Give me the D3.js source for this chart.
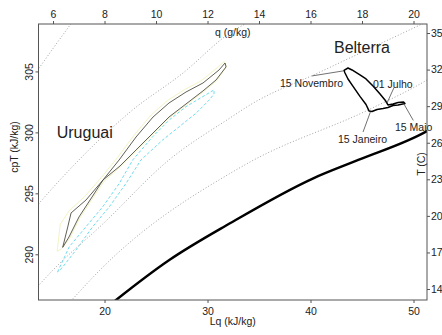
<!DOCTYPE html>
<html>
<head>
<meta charset="utf-8">
<script src="https://cdn.jsdelivr.net/npm/d3@7"></script>
<style>
  html, body { margin: 0; padding: 0; background: #fff; }
  svg text { font-family: "Liberation Sans", Arial, sans-serif; fill: #222; }
</style>
</head>
<body>
<svg id="chart" width="442" height="335"></svg>
<script>
/* ── DATA (Lq kJ/kg, cpT kJ/kg) ── */
const lqTicks  = [20, 30, 40, 50];
const cptTicks = [290, 295, 300, 305];
const qTicks   = [6, 8, 10, 12, 14, 16, 18, 20];
const tTicks   = [14, 17, 20, 23, 26, 29, 32, 35];

// dotted reference curves
const refLineA = [[13.3, 304.85], [15.1, 307.0], [17.0, 309.2]];
const refLineB = [[13.2, 293.75], [13.59, 294.13], [17.52, 297.74], [22.48, 301.67],
                  [27.62, 304.87], [32.18, 308.15], [34.1, 309.1]];
const refLineC = [[13.3, 287.17], [15.0, 288.71], [19.83, 292.48], [26.26, 297.74],
                  [32.18, 301.18], [34.13, 302.25], [40.92, 304.95], [46.07, 307.0],
                  [50.63, 308.81], [51.6, 309.2]];
const refLineD = [[16.5, 285.96], [16.82, 286.25], [19.56, 288.71], [32.77, 296.92],
                  [34.13, 297.57], [45.78, 301.91], [51.31, 304.3], [51.6, 304.45]];
// saturation curve (thick)
const satCurve = [[20.6, 285.9], [21.12, 286.25], [26.29, 289.53], [32.18, 292.54],
                  [40.27, 296.23], [44.64, 297.74], [51.31, 300.11], [51.6, 300.25]];

// Uruguai loops
const uruguaiYellow = [[15.40, 290.25], [15.70, 292.45], [16.55, 293.55], [18.05, 294.72],
  [19.70, 296.30], [21.25, 297.93], [22.90, 299.80], [24.55, 301.45], [26.10, 302.60],
  [27.75, 303.50], [29.40, 304.24], [30.95, 305.30], [31.62, 305.80], [31.85, 305.42],
  [30.90, 304.25], [29.62, 303.35], [27.97, 302.28], [26.32, 301.22], [24.77, 299.90],
  [23.12, 298.50], [21.56, 297.19], [19.92, 295.96], [18.85, 294.58], [17.58, 292.95],
  [16.62, 291.30], [15.75, 290.40]];
const uruguaiDark = [[15.94, 290.57], [16.43, 292.24], [16.75, 293.39], [18.20, 294.45],
  [19.85, 296.09], [21.41, 297.73], [23.06, 299.62], [24.71, 301.26], [26.26, 302.41],
  [27.91, 303.31], [29.56, 304.05], [31.12, 305.12], [31.70, 305.69], [31.80, 305.37],
  [30.83, 304.30], [29.56, 303.40], [27.91, 302.33], [26.26, 301.26], [24.71, 299.95],
  [23.06, 298.56], [21.50, 297.24], [19.85, 296.09], [18.79, 294.70], [17.52, 293.06],
  [16.55, 291.42]];
const uruguaiCyan = [[15.44, 288.55], [16.58, 290.62], [18.20, 292.26], [19.83, 293.90],
  [21.44, 295.82], [22.74, 297.74], [24.68, 299.65], [26.29, 301.02], [27.91, 302.11],
  [29.53, 302.93], [30.63, 303.48], [30.63, 303.15], [30.17, 302.66], [28.88, 301.57],
  [27.26, 300.47], [25.65, 299.38], [23.54, 297.74], [22.09, 295.82], [20.47, 293.90],
  [18.85, 292.26], [17.23, 290.35], [15.87, 288.88]];

// Belterra loop
const belterra = [[43.25, 305.08], [43.64, 305.28], [44.03, 305.12], [44.80, 304.71],
  [45.39, 304.38], [46.07, 303.81], [46.75, 303.15], [47.23, 302.66], [47.52, 302.25],
  [48.01, 302.33], [48.50, 302.45], [49.03, 302.49], [49.17, 302.37], [48.50, 302.25],
  [48.01, 302.21], [47.52, 302.04], [47.04, 301.96], [46.46, 301.88], [45.97, 301.71],
  [45.68, 301.76], [45.39, 302.29], [44.80, 302.95], [44.13, 303.77], [43.64, 304.38],
  [43.35, 304.87]];

// date annotations: label, text anchor point, leader from -> to
const annLabels  = ['15 Novembro', '01 Julho', '15 Janeiro', '15 Maio'];
const annText    = [[37.04, 303.72], [46.07, 303.68], [45.05, 299.13], [48.20, 300.11]];
const annAnchor  = ['start', 'start', 'middle', 'start'];
const annLeader  = [[[40.15, 304.63], [43.16, 305.04]],
                    [[48.11, 303.68], [47.43, 302.41]],
                    [[45.83, 301.71], [45.10, 300.03]],
                    [[49.03, 302.39], [49.98, 300.98]]];
const siteLabels = ['Uruguai', 'Belterra'];
const sitePos    = [[15.36, 299.54], [45.0, 306.51]];
const siteAnchor = ['start', 'middle'];

/* ── LAYOUT ── */
const LEFT = 38.5, RIGHT = 427, TOP = 24, BOTTOM = 300;
const FS = '10.5px';
const AXIS_COL = '#555';

const svg = d3.select('#chart');

const x  = d3.scaleLinear().domain([13.59, 51.31]).range([LEFT, RIGHT]);
const y  = d3.scaleLinear().domain([286.25, 308.89]).range([BOTTOM, TOP]);
const xq = d3.scaleLinear().domain(x.domain().map(v => v / 2.5)).range([LEFT, RIGHT]);
const yT = d3.scaleLinear().domain(y.domain().map(v => v - 273.15)).range([BOTTOM, TOP]);

svg.append('defs').append('clipPath').attr('id', 'plotclip')
  .append('rect').attr('x', LEFT).attr('y', TOP)
  .attr('width', RIGHT - LEFT).attr('height', BOTTOM - TOP);

const plot = svg.append('g').attr('clip-path', 'url(#plotclip)');

const smooth = d3.line().x(d => x(d[0])).y(d => y(d[1])).curve(d3.curveMonotoneX);
const loop   = d3.line().x(d => x(d[0])).y(d => y(d[1])).curve(d3.curveLinearClosed);

/* dotted reference lines */
[refLineA, refLineB, refLineC, refLineD].forEach(pts => {
  plot.append('path').attr('d', smooth(pts))
    .attr('fill', 'none').attr('stroke', '#8a8a8a')
    .attr('stroke-width', 0.8).attr('stroke-dasharray', '1 2');
});

/* saturation curve */
plot.append('path').attr('d', smooth(satCurve))
  .attr('fill', 'none').attr('stroke', '#000').attr('stroke-width', 2.4);

/* Uruguai */
plot.append('path').attr('d', loop(uruguaiYellow))
  .attr('fill', 'none').attr('stroke', '#f3f3c4').attr('stroke-width', 1);
plot.append('path').attr('d', loop(uruguaiCyan))
  .attr('fill', 'none').attr('stroke', '#70dcec')
  .attr('stroke-width', 1).attr('stroke-dasharray', '3 2');
plot.append('path').attr('d', loop(uruguaiDark))
  .attr('fill', 'none').attr('stroke', '#4e4e42').attr('stroke-width', 0.9);

/* Belterra */
plot.append('path').attr('d', loop(belterra))
  .attr('fill', 'none').attr('stroke', '#000').attr('stroke-width', 1.5)
  .attr('stroke-linejoin', 'round');

/* annotations */
annLeader.forEach(([a, b]) => {
  svg.append('line')
    .attr('x1', x(a[0])).attr('y1', y(a[1])).attr('x2', x(b[0])).attr('y2', y(b[1]))
    .attr('stroke', '#333').attr('stroke-width', 0.7);
});
annLabels.forEach((t, i) => {
  svg.append('text').attr('x', x(annText[i][0])).attr('y', y(annText[i][1]))
    .attr('text-anchor', annAnchor[i]).style('font-size', FS).text(t);
});
siteLabels.forEach((t, i) => {
  svg.append('text').attr('x', x(sitePos[i][0])).attr('y', y(sitePos[i][1]))
    .attr('text-anchor', siteAnchor[i]).style('font-size', '16px').text(t);
});

/* ── AXES ── */
function styleAxis(ax) {
  ax.select('.domain').remove();
  ax.selectAll('line').attr('stroke', AXIS_COL);
  ax.selectAll('text').style('font-size', FS).attr('fill', '#222')
    .style('font-family', '"Liberation Sans", Arial, sans-serif');
}

svg.append('g').attr('transform', `translate(0,${BOTTOM})`)
  .call(d3.axisBottom(x).tickValues(lqTicks).tickSize(3).tickPadding(4.5))
  .call(styleAxis);

svg.append('g').attr('transform', `translate(0,${TOP})`)
  .call(d3.axisTop(xq).tickValues(qTicks).tickSize(3).tickPadding(3.5))
  .call(styleAxis);

svg.append('g').attr('transform', `translate(${LEFT},0)`)
  .call(d3.axisLeft(y).tickValues(cptTicks).tickSize(3))
  .call(styleAxis)
  .call(ax => ax.selectAll('text')
    .attr('transform', 'rotate(-90)').attr('x', 0).attr('y', -5.5)
    .attr('dy', 0).attr('text-anchor', 'middle'));

svg.append('g').attr('transform', `translate(${RIGHT},0)`)
  .call(d3.axisRight(yT).tickValues(tTicks).tickSize(3).tickPadding(1))
  .call(styleAxis);

/* box */
svg.append('rect').attr('x', LEFT).attr('y', TOP)
  .attr('width', RIGHT - LEFT).attr('height', BOTTOM - TOP)
  .attr('fill', 'none').attr('stroke', AXIS_COL).attr('stroke-width', 1);

/* axis titles */
svg.append('text').attr('x', (LEFT + RIGHT) / 2).attr('y', 324.5)
  .attr('text-anchor', 'middle').style('font-size', FS).text('Lq (kJ/kg)');
svg.append('text').attr('x', (LEFT + RIGHT) / 2).attr('y', 36)
  .attr('text-anchor', 'middle').style('font-size', FS).text('q (g/kg)');
svg.append('text').attr('transform', 'translate(18,147) rotate(-90)')
  .attr('text-anchor', 'middle').style('font-size', FS).text('cpT (kJ/kg)');
svg.append('text').attr('transform', 'translate(425,164) rotate(-90)')
  .attr('text-anchor', 'middle').style('font-size', FS).text('T (C)');
</script>
</body>
</html>
